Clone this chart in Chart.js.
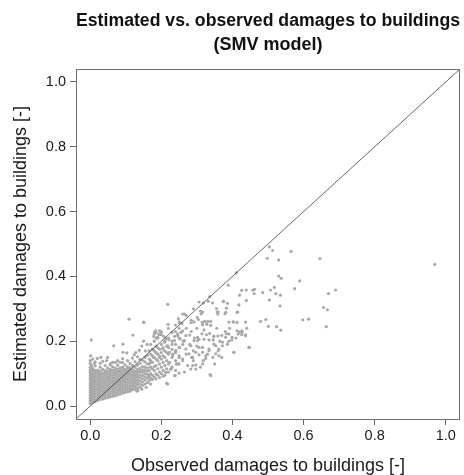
<!DOCTYPE html>
<html><head><meta charset="utf-8">
<script src="https://cdn.jsdelivr.net/npm/chart.js@4/dist/chart.umd.min.js"></script>
<style>html,body{margin:0;padding:0;background:#fff;}</style>
</head><body>
<canvas id="c" width="464" height="475"></canvas>
<script>
const titleLines = ["Estimated vs. observed damages to buildings", "(SMV model)"];
const xAxisTitle = "Observed damages to buildings [-]";
const yAxisTitle = "Estimated damages to buildings [-]";
const tickValues = [0.0, 0.2, 0.4, 0.6, 0.8, 1.0];
const axisMin = -0.04, axisMax = 1.04;
const identityLine = [-0.04, 1.04];

// dense core: [observed, [estimated values at that observed value]]
const coreColumns = [
  [0.000,[.008,.016,.024,.032,.040,.048,.056,.064,.072,.080,.088,.096,.104,.112,.119,.131,.140]],
  [0.004,[.011,.019,.027,.035,.043,.051,.059,.067,.075,.083,.091,.099,.107,.125]],
  [0.007,[.012,.020,.028,.036,.044,.052,.060,.068,.076,.084,.092,.100,.108,.116,.145]],
  [0.014,[.014,.022,.030,.038,.046,.054,.062,.070,.078,.086,.094,.102,.110,.124,.136]],
  [0.021,[.017,.025,.033,.041,.049,.057,.065,.073,.081,.089,.097,.105,.111]],
  [0.028,[.020,.028,.036,.044,.052,.060,.068,.076,.084,.092,.100,.108,.120,.132]],
  [0.035,[.022,.030,.038,.046,.054,.062,.070,.078,.086,.094,.102,.113,.138]],
  [0.042,[.024,.032,.040,.048,.056,.064,.072,.080,.088,.096,.104,.110,.125]],
  [0.049,[.026,.034,.042,.050,.058,.066,.074,.082,.090,.098,.106,.117,.150]],
  [0.056,[.028,.036,.044,.052,.060,.068,.076,.084,.092,.100,.108,.113,.127]],
  [0.063,[.030,.038,.046,.054,.062,.070,.078,.086,.094,.102,.110,.121,.135]],
  [0.070,[.032,.040,.048,.056,.064,.072,.080,.088,.096,.104,.112,.117]],
  [0.077,[.034,.042,.050,.058,.066,.074,.082,.090,.098,.106,.114,.126,.140]],
  [0.084,[.037,.045,.053,.061,.069,.077,.085,.093,.101,.109,.118]],
  [0.091,[.040,.048,.056,.064,.072,.080,.088,.096,.104,.112,.120,.134,.146]],
  [0.098,[.042,.050,.058,.066,.074,.082,.090,.098,.106,.114,.127]],
  [0.105,[.044,.052,.060,.068,.076,.084,.092,.100,.108,.116,.121,.140]],
  [0.112,[.046,.054,.062,.070,.078,.086,.094,.102,.110,.118,.131]],
  [0.119,[.050,.056,.064,.072,.080,.088,.096,.104,.112,.125,.148]],
  [0.126,[.052,.060,.068,.076,.084,.092,.100,.108,.119,.137]],
  [0.133,[.055,.065,.073,.081,.089,.097,.105,.113,.126,.152]],
  [0.140,[.058,.068,.078,.088,.096,.106,.116,.132,.144]],
  [0.147,[.064,.074,.084,.094,.104,.112,.122,.141]],
  [0.154,[.068,.080,.090,.100,.110,.120,.136,.150]],
  [0.161,[.072,.086,.098,.108,.118,.130,.156]]
];

// band along the diagonal
const bandColumns = [
  [0.166,[.078,.092,.110,.130,.145,.170]],
  [0.170,[.085,.100,.120,.140,.160,.190]],
  [0.175,[.082,.095,.115,.135,.155,.175]],
  [0.180,[.090,.110,.122,.150,.170,.200]],
  [0.185,[.084,.100,.125,.145,.165,.185]],
  [0.190,[.095,.115,.140,.160,.180,.210]],
  [0.195,[.088,.105,.130,.150,.175]],
  [0.200,[.100,.120,.145,.165,.190,.220]],
  [0.205,[.092,.110,.135,.155,.180]],
  [0.210,[.095,.125,.150,.170,.200]],
  [0.215,[.115,.140,.165,.185]],
  [0.220,[.105,.130,.160,.180,.210]],
  [0.230,[.120,.150,.175,.200]],
  [0.240,[.110,.140,.165,.190,.230]],
  [0.250,[.130,.155,.180,.210]]
];

// scattered middle cloud: [observed, estimated]
const midPoints = [
  [0.306,0.321],[0.318,0.318],[0.332,0.323],[0.344,0.318],[0.375,0.322],[0.386,0.317],
  [0.383,0.302],[0.418,0.312],[0.420,0.342],[0.439,0.326],[0.426,0.357],[0.439,0.358],
  [0.388,0.373],[0.411,0.411],[0.336,0.338],[0.316,0.290],[0.312,0.284],[0.357,0.290],
  [0.359,0.284],[0.379,0.285],[0.415,0.290],[0.284,0.265],[0.301,0.274],[0.304,0.267],
  [0.315,0.258],[0.322,0.261],[0.331,0.261],[0.339,0.261],[0.328,0.252],[0.339,0.249],
  [0.316,0.251],[0.390,0.259],[0.403,0.259],[0.437,0.259],[0.284,0.230],[0.314,0.223],
  [0.327,0.220],[0.336,0.224],[0.347,0.215],[0.359,0.216],[0.370,0.218],[0.383,0.223],
  [0.420,0.229],[0.416,0.222],[0.426,0.220],[0.437,0.220],[0.306,0.206],[0.320,0.206],
  [0.334,0.204],[0.346,0.204],[0.364,0.200],[0.398,0.204],[0.337,0.097],[0.215,0.070],
  [0.260,0.140],[0.290,0.140],[0.306,0.158],[0.325,0.155],[0.274,0.125],[0.297,0.127],
  [0.239,0.094],[0.250,0.102],[0.223,0.135],[0.227,0.114],[0.213,0.104],[0.283,0.114],
  [0.316,0.181],[0.334,0.176],[0.353,0.186],[0.372,0.186],[0.386,0.191],[0.404,0.166],
  [0.427,0.232],[0.280,0.219],[0.293,0.210],[0.302,0.202],[0.348,0.216],[0.207,0.215],
  [0.213,0.207],[0.221,0.205],[0.230,0.227],[0.237,0.215],[0.246,0.222],[0.253,0.207],
  [0.260,0.232],[0.269,0.217],[0.248,0.270],[0.258,0.255],[0.265,0.284],[0.284,0.257],
  [0.292,0.260],[0.219,0.252],[0.185,0.227],[0.193,0.221],[0.200,0.229],[0.179,0.215],
  [0.186,0.209],[0.310,0.293],[0.355,0.301],[0.360,0.291],[0.381,0.289],[0.413,0.289],
  [0.402,0.260],[0.413,0.258],[0.374,0.324],[0.218,0.314],[0.260,0.284],[0.181,0.227],
  [0.195,0.232],[0.310,0.120],[0.350,0.130],[0.370,0.150],[0.330,0.160],[0.290,0.170],
  [0.270,0.160],[0.250,0.150],[0.240,0.170],[0.260,0.190],[0.280,0.190],[0.300,0.185],
  [0.360,0.170],[0.390,0.200],[0.410,0.210],[0.380,0.230],[0.440,0.240],[0.270,0.240],
  [0.250,0.240],[0.230,0.190],[0.220,0.240],[0.250,0.260],[0.240,0.250],[0.270,0.280],
  [0.290,0.300],[0.262,0.200],[0.232,0.160],[0.242,0.130],[0.265,0.105],[0.285,0.150],
  [0.318,0.140],[0.345,0.150],[0.300,0.240],[0.320,0.235],[0.356,0.240],[0.392,0.240]
];

// more of the middle cloud, below the diagonal
const lowerCloudPoints = [
  [0.184,0.232],[0.190,0.212],[0.199,0.227],[0.176,0.176],[0.185,0.166],[0.178,0.150],
  [0.171,0.135],[0.195,0.154],[0.204,0.176],[0.209,0.197],[0.218,0.186],[0.223,0.166],
  [0.232,0.155],[0.241,0.171],[0.251,0.181],[0.237,0.202],[0.246,0.217],[0.255,0.227],
  [0.265,0.202],[0.269,0.176],[0.278,0.161],[0.288,0.150],[0.297,0.166],[0.283,0.186],
  [0.292,0.202],[0.302,0.212],[0.306,0.181],[0.316,0.166],[0.325,0.147],[0.334,0.171],
  [0.260,0.145],[0.246,0.130],[0.227,0.114],[0.213,0.104],[0.237,0.094],[0.218,0.068],
  [0.316,0.130],[0.288,0.125],[0.297,0.114],[0.339,0.094],[0.353,0.161],[0.362,0.176],
  [0.348,0.191],[0.372,0.197],[0.381,0.212],[0.390,0.222],[0.399,0.212],[0.413,0.232],
  [0.427,0.227],[0.437,0.217],[0.446,0.181],[0.404,0.166],[0.362,0.155],[0.251,0.258],
  [0.128,0.165],[0.138,0.172],[0.145,0.185],[0.155,0.170],[0.160,0.190],[0.150,0.200]
];

// sparse high-damage points
const sparsePoints = [
  [0.504,0.491],[0.513,0.480],[0.565,0.477],[0.498,0.456],[0.530,0.451],[0.646,0.455],
  [0.969,0.437],[0.530,0.401],[0.537,0.394],[0.589,0.386],[0.457,0.358],[0.462,0.360],
  [0.461,0.347],[0.485,0.350],[0.507,0.358],[0.518,0.366],[0.522,0.347],[0.535,0.342],
  [0.575,0.362],[0.670,0.347],[0.690,0.358],[0.504,0.327],[0.534,0.309],[0.656,0.304],
  [0.667,0.297],[0.479,0.261],[0.494,0.267],[0.598,0.266],[0.614,0.268],[0.501,0.246],
  [0.524,0.245],[0.536,0.234],[0.664,0.245],[0.448,0.181]
];

// scattered points around the core
const edgePoints = [
  [0.003,0.204],[0.001,0.155],[0.020,0.147],[0.046,0.140],[0.066,0.186],[0.092,0.191],
  [0.120,0.219],[0.151,0.258],[0.109,0.268],[0.150,0.259],[0.092,0.166],[0.103,0.164],
  [0.124,0.158],[0.071,0.135],[0.180,0.222],[0.030,0.150],[0.134,0.048],[0.157,0.058],
  [0.131,0.046],[0.145,0.052],[0.170,0.068],[0.058,0.132],[0.084,0.135],[0.012,0.132]
];

function fromColumns(cols) {
  const out = [];
  cols.forEach(([x, ys]) => ys.forEach(y => out.push({x: x, y: y})));
  return out;
}
function fromPairs(pairs) { return pairs.map(([x, y]) => ({x: x, y: y})); }

const scatterData = [].concat(
  fromColumns(coreColumns), fromColumns(bandColumns),
  fromPairs(midPoints), fromPairs(lowerCloudPoints),
  fromPairs(sparsePoints), fromPairs(edgePoints)
);

Chart.defaults.font.family = "'Liberation Sans', Arial, sans-serif";
Chart.defaults.color = '#1a1a1a';

const boxPlugin = {
  id: 'box',
  afterDraw(chart) {
    const a = chart.chartArea, ctx = chart.ctx;
    ctx.save();
    ctx.strokeStyle = '#707070';
    ctx.lineWidth = 1;
    ctx.strokeRect(Math.round(a.left) + 0.5, Math.round(a.top) + 0.5,
      Math.round(a.right - a.left) - 1, Math.round(a.bottom - a.top));
    ctx.restore();
  }
};

const setTicks = s => { s.ticks = tickValues.map(v => ({value: v})); };

new Chart(document.getElementById('c'), {
  type: 'scatter',
  data: {
    datasets: [
      {
        type: 'line',
        data: identityLine.map(v => ({x: v, y: v})),
        borderColor: 'rgba(45,45,45,0.9)',
        borderWidth: 0.8,
        pointRadius: 0,
        fill: false,
        order: 0
      },
      {
        data: scatterData,
        backgroundColor: '#a9a9a9',
        borderWidth: 0,
        pointRadius: 1.6,
        order: 1
      }
    ]
  },
  options: {
    responsive: false,
    animation: false,
    devicePixelRatio: 1,
    layout: {padding: {left: 0, right: 2, top: 0, bottom: 0}},
    plugins: {
      legend: {display: false},
      tooltip: {enabled: false},
      title: {
        display: true,
        text: titleLines,
        fullSize: false,
        color: '#111',
        font: {size: 18, weight: 'bold', lineHeight: 1.3333},
        padding: {top: 9, bottom: 12}
      }
    },
    scales: {
      x: {
        type: 'linear',
        min: axisMin, max: axisMax,
        afterBuildTicks: setTicks,
        afterFit: s => { s.height = 56; },
        grid: {display: true, drawOnChartArea: false, drawTicks: true, tickLength: 6, color: '#6a6a6a'},
        border: {display: false},
        ticks: {callback: v => Number(v).toFixed(1), font: {size: 14.5}, padding: 2, maxRotation: 0, autoSkip: false, color: '#1a1a1a'},
        title: {display: true, text: xAxisTitle, font: {size: 18, lineHeight: 1}, padding: {top: 0, bottom: 0}, color: '#1a1a1a'}
      },
      y: {
        type: 'linear',
        min: axisMin, max: axisMax,
        afterBuildTicks: setTicks,
        afterFit: s => { s.width = 76; },
        grid: {display: true, drawOnChartArea: false, drawTicks: true, tickLength: 6, color: '#6a6a6a'},
        border: {display: false},
        ticks: {callback: v => Number(v).toFixed(1), font: {size: 14.5}, padding: 4, autoSkip: false, color: '#1a1a1a'},
        title: {display: true, text: yAxisTitle, font: {size: 18, lineHeight: 1.2}, padding: {top: 10, bottom: 0}, color: '#1a1a1a'}
      }
    }
  },
  plugins: [boxPlugin]
});
</script>
</body></html>
